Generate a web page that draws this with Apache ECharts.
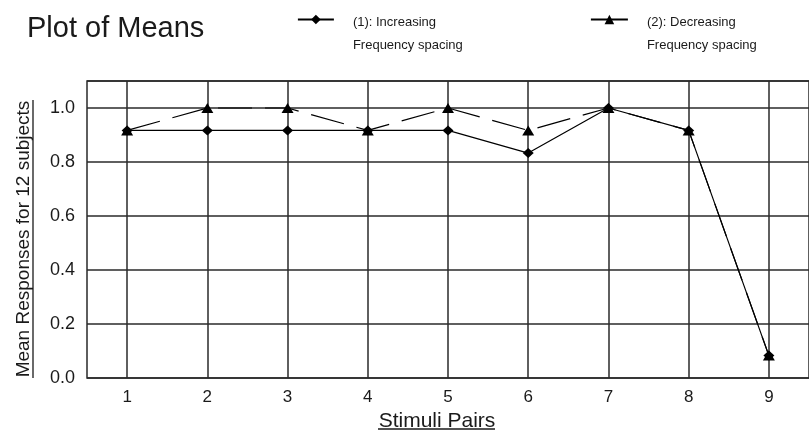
<!DOCTYPE html>
<html>
<head>
<meta charset="utf-8">
<script src="https://cdn.jsdelivr.net/npm/echarts@6/dist/echarts.min.js"></script>
<style>
html,body{margin:0;padding:0;background:#fff;}
#chart{width:809px;height:441px;}
</style>
</head>
<body>
<div id="chart"></div>
<script>
const categories = [1, 2, 3, 4, 5, 6, 7, 8, 9];
const increasing = [0.917, 0.917, 0.917, 0.917, 0.917, 0.833, 1.0, 0.917, 0.083];
const decreasing = [0.917, 1.0, 1.0, 0.917, 1.0, 0.917, 1.0, 0.917, 0.083];
const yTicks = [0, 0.2, 0.4, 0.6, 0.8, 1.0];
const seriesNames = ['(1): Increasing\nFrequency spacing', '(2): Decreasing\nFrequency spacing'];

const FONT = "'Liberation Sans', Arial, sans-serif";
const TXT = '#1a1a1a';
const GRID = '#2a2a2a';

const chart = echarts.init(document.getElementById('chart'), null, {renderer: 'canvas'});

function legendFor(name, left, width) {
  return {
    orient: 'horizontal',
    padding: 0,
    left: left,
    top: -10,
    itemWidth: width,
    itemHeight: 12,
    data: [name],
    formatter: n => '{s| }\n{a|' + n.split('\n').join('}\n{a|') + '}',
    textStyle: {
      fontFamily: FONT, fontSize: 13, color: TXT, padding: [0, 0, 0, 14],
      rich: {
        s: {fontFamily: FONT, fontSize: 13, lineHeight: 29},
        a: {fontFamily: FONT, fontSize: 13, lineHeight: 23, color: TXT}
      }
    },
    lineStyle: {type: 'solid', width: 1.8}
  };
}

const option = {
  animation: false,
  backgroundColor: '#fff',
  title: {
    text: 'Plot of Means',
    left: 27, top: 14, padding: 0,
    textStyle: {fontFamily: FONT, fontSize: 29, fontWeight: 'normal', color: TXT}
  },
  legend: [
    legendFor(seriesNames[0], 297, 36),
    legendFor(seriesNames[1], 590, 37)
  ],
  grid: {
    left: 87, top: 81, width: 733, height: 297,
    show: true, borderColor: GRID, borderWidth: 1.5, backgroundColor: 'transparent'
  },
  xAxis: {
    type: 'value', min: 0.5, max: 9.5,
    name: 'Stimuli Pairs', nameLocation: 'middle', nameGap: 30,
    nameTextStyle: {fontFamily: FONT, fontSize: 21, color: TXT, padding: [0, 22, 0, 0]},
    axisLine: {show: false},
    axisTick: {show: false, customValues: categories},
    axisLabel: {customValues: categories, fontFamily: FONT, fontSize: 17, color: TXT, margin: 11,
      formatter: v => String(v)},
    splitLine: {show: true, lineStyle: {color: GRID, width: 1.5}}
  },
  yAxis: {
    type: 'value', min: 0, max: 1.1, interval: 0.2,
    name: 'Mean Responses for 12 subjects', nameLocation: 'middle', nameGap: 54, nameRotate: 90,
    nameTextStyle: {fontFamily: FONT, fontSize: 19, color: TXT, padding: [0, 19, 0, 0]},
    axisLine: {show: false},
    axisTick: {show: false},
    axisLabel: {fontFamily: FONT, fontSize: 18, color: TXT, margin: 12, showMaxLabel: false,
      formatter: v => (yTicks.indexOf(Math.round(v * 10) / 10) >= 0 ? v.toFixed(1) : '')},
    splitLine: {show: true, lineStyle: {color: GRID, width: 1.5}}
  },
  graphic: [
    {type: 'line', shape: {x1: 378, y1: 429, x2: 495, y2: 429}, style: {stroke: TXT, lineWidth: 1.3}},
    {type: 'line', shape: {x1: 33, y1: 100, x2: 33, y2: 378}, style: {stroke: TXT, lineWidth: 1.3}}
  ],
  series: [
    {
      name: seriesNames[0], type: 'line',
      data: categories.map((c, i) => [c, increasing[i]]),
      symbol: 'diamond', symbolSize: [11, 10],
      itemStyle: {color: '#000'},
      lineStyle: {color: '#000', width: 1.2, type: 'solid'},
      z: 3
    },
    {
      name: seriesNames[1], type: 'line',
      data: categories.map((c, i) => [c, decreasing[i]]),
      symbol: 'triangle', symbolSize: [12, 10],
      itemStyle: {color: '#000'},
      lineStyle: {color: '#000', width: 1.2, type: [34, 13]},
      z: 2
    }
  ]
};
chart.setOption(option);
</script>
</body>
</html>
